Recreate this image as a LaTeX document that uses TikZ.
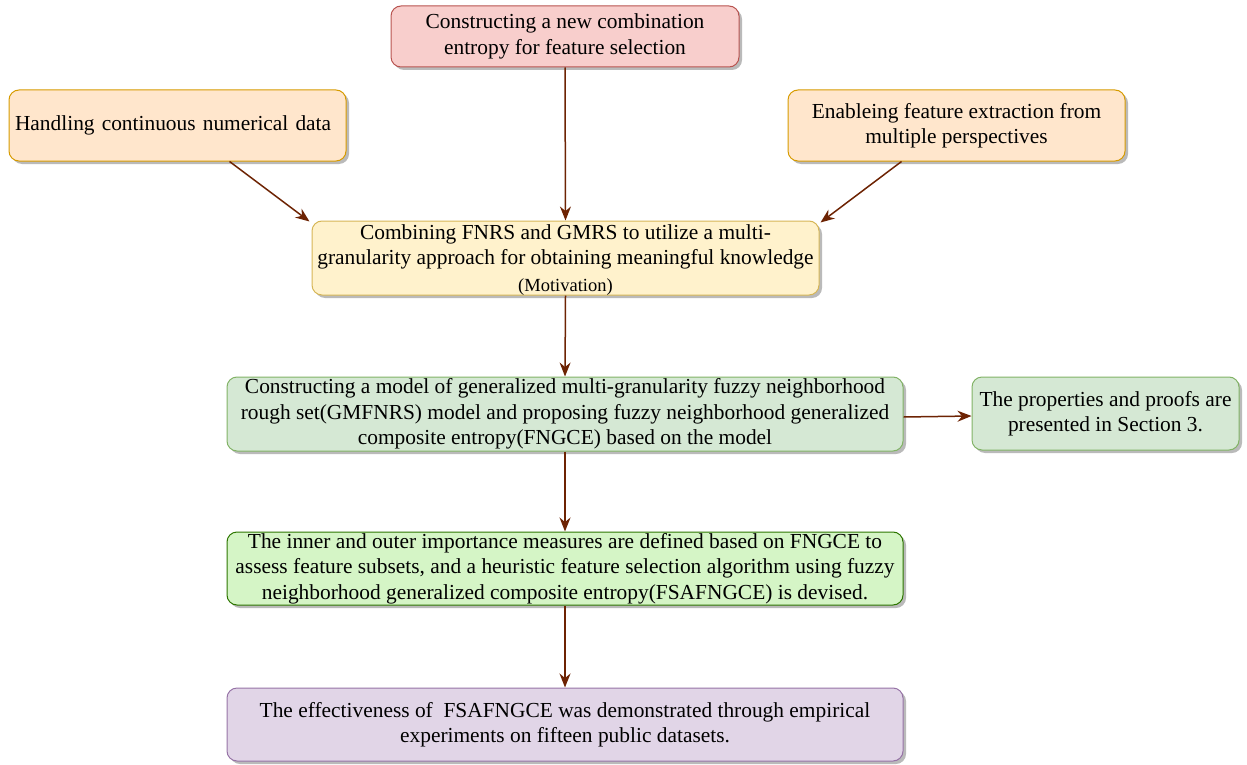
\documentclass[tikz,border=0pt]{standalone}
\usepackage{fontspec}
\setmainfont{Liberation Serif}
\usetikzlibrary{shadows,arrows.meta}
\definecolor{redF}{HTML}{F8CECC}\definecolor{redD}{HTML}{B85450}
\definecolor{orF}{HTML}{FFE6CC}\definecolor{orD}{HTML}{D79B00}
\definecolor{yeF}{HTML}{FFF2CC}\definecolor{yeD}{HTML}{D6B656}
\definecolor{grF}{HTML}{D5E8D4}\definecolor{grD}{HTML}{82B366}
\definecolor{lgF}{HTML}{D5F5C6}\definecolor{lgD}{HTML}{2D7600}
\definecolor{puF}{HTML}{E1D5E7}\definecolor{puD}{HTML}{9673A6}
\definecolor{arr}{HTML}{6D2303}
\tikzset{
  box/.style={draw, line width=1pt, rounded corners=10pt, inner sep=0pt, align=center,
    font=\fontsize{21.4}{25.5}\selectfont,
    drop shadow={shadow xshift=3pt, shadow yshift=-3pt, fill=black!45, opacity=0.6}},
  conn/.style={draw=arr, line width=1.5pt, -{Stealth[length=14pt,width=11pt]}}
}
\begin{document}
\begin{tikzpicture}[x=1pt,y=-1pt]
\useasboundingbox (0,0) rectangle (1247,765);
\node[box, fill=redF, draw=redD, minimum width=348pt, minimum height=61pt] (top) at (565,36.5)
  {Constructing a new combination\\entropy for feature selection};
\node[box, fill=orF, draw=orD, minimum width=337pt, minimum height=71pt, align=left, text width=325pt] (left) at (177.5,125.5)
  {Handling continuous numerical data};
\node[box, fill=orF, draw=orD, minimum width=337pt, minimum height=71pt] (right) at (956.5,125.5)
  {Enableing feature extraction from\\multiple perspectives};
\node[box, fill=yeF, draw=yeD, minimum width=507pt, minimum height=74pt,
  label={[align=center, font=\fontsize{21.4}{25.5}\selectfont, yshift=-2pt]center:{Combining FNRS and GMRS to utilize a multi-\\granularity approach for obtaining meaningful knowledge\\[1pt]{\fontsize{18.5}{21}\selectfont (Motivation)}}}] (mot) at (565.5,258) {};
\node[box, fill=grF, draw=grD, minimum width=676pt, minimum height=74pt] (model) at (565,414)
  {Constructing a model of generalized multi-granularity fuzzy neighborhood\\rough set(GMFNRS) model and proposing fuzzy neighborhood generalized\\composite entropy(FNGCE) based on the model};
\node[box, fill=grF, draw=grD, minimum width=267pt, minimum height=73pt] (sec) at (1105.5,413.5)
  {The properties and proofs are\\presented in Section 3.};
\node[box, fill=lgF, draw=lgD, minimum width=676pt, minimum height=73pt] (inner) at (565,568.5)
  {The inner and outer importance measures are defined based on FNGCE to\\assess feature subsets, and a heuristic feature selection algorithm using fuzzy\\neighborhood generalized composite entropy(FSAFNGCE) is devised.};
\node[box, fill=puF, draw=puD, minimum width=676pt, minimum height=73pt] (eff) at (565,724.5)
  {The effectiveness of \ FSAFNGCE was demonstrated through empirical\\experiments on fifteen public datasets.};
\draw[conn] (top.south) -- (mot.north);
\draw[conn] ([xshift=52pt]left.south) -- ([xshift=-2pt,yshift=-1pt]mot.north west);
\draw[conn] ([xshift=-55pt]right.south) -- ([xshift=1pt,yshift=-2pt]mot.north east);
\draw[conn] (mot.south) -- (model.north);
\draw[conn] ([yshift=-3pt]model.east) -- ([yshift=-2.5pt]sec.west);
\draw[conn] (model.south) -- (inner.north);
\draw[conn] (inner.south) -- (eff.north);
\end{tikzpicture}
\end{document}
